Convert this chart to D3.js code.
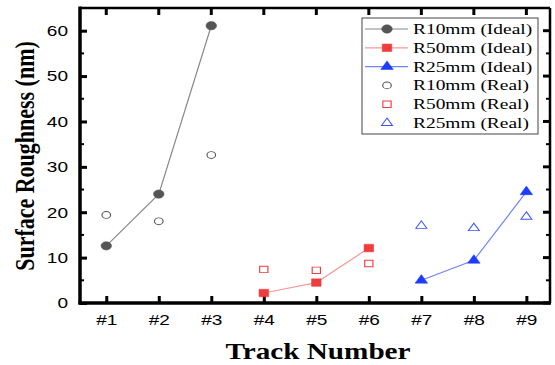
<!DOCTYPE html>
<html>
<head>
<meta charset="utf-8">
<script src="https://cdn.jsdelivr.net/npm/d3@7"></script>
<style>
body { margin: 0; background: #fff; }
svg { display: block; }
</style>
</head>
<body>
<script>
// Daten
var tracks = ["#1", "#2", "#3", "#4", "#5", "#6", "#7", "#8", "#9"];
var yTicks = [0, 10, 20, 30, 40, 50, 60];

var r10Ideal = [12.6, 24.0, 61.1];
var r10Real  = [19.4, 18.0, 32.6];
var r50Ideal = [2.2, 4.5, 12.1];
var r50Real  = [7.4, 7.2, 8.7];
var r25Ideal = [5.0, 9.4, 24.5];
var r25Real  = [17.0, 16.5, 19.0];

var W = 555, H = 365;
var margin = {top: 8, right: 5, bottom: 62, left: 80};
var width = W - margin.left - margin.right,
    height = H - margin.top - margin.bottom;
var SX = 1.27; // Bild ist waagerecht gestreckt

var svg = d3.select("body").append("svg")
  .attr("width", W).attr("height", H);
var g = svg.append("g")
  .attr("transform", "translate(" + margin.left + "," + margin.top + ")");

var xScale = d3.scaleLinear().domain([0.5, 9.45]).range([0, width]);
var yScale = d3.scaleLinear().domain([0, 65]).range([height, 0]);

// Serien
var series = [
  {name: "R10mm (Ideal)", data: r10Ideal, start: 1, shape: d3.symbolCircle, fill: "#555", stroke: "#555", line: "#888", size: 54},
  {name: "R50mm (Ideal)", data: r50Ideal, start: 4, shape: d3.symbolSquare, fill: "#f03c3c", stroke: "#f03c3c", line: "#f59a9a", size: 56},
  {name: "R25mm (Ideal)", data: r25Ideal, start: 7, shape: d3.symbolTriangle, fill: "#1e3cff", stroke: "#1e3cff", line: "#7085ff", size: 42},
  {name: "R10mm (Real)", data: r10Real, start: 1, shape: d3.symbolCircle, fill: "none", stroke: "#555", line: null, size: 36},
  {name: "R50mm (Real)", data: r50Real, start: 4, shape: d3.symbolSquare, fill: "none", stroke: "#f03c3c", line: null, size: 42},
  {name: "R25mm (Real)", data: r25Real, start: 7, shape: d3.symbolTriangle, fill: "none", stroke: "#3a55ff", line: null, size: 32}
];

// Achsen
var xAxis = d3.axisBottom(xScale).tickValues(d3.range(1, 10))
  .tickFormat(function (d) { return tracks[d - 1]; })
  .tickSizeInner(-7).tickSizeOuter(0).tickPadding(11);
var gx = g.append("g").attr("transform", "translate(0," + height + ")").call(xAxis);

var yAxis = d3.axisLeft(yScale).tickValues(yTicks)
  .tickSizeInner(-7).tickSizeOuter(0).tickPadding(12);
var gy = g.append("g").call(yAxis);

[gx, gy].forEach(function (a) {
  a.selectAll("text")
    .style("font-family", "'Liberation Sans', Arial, sans-serif")
    .style("font-size", "15px").attr("fill", "#000")
    .attr("x", function () { return +d3.select(this).attr("x") / SX; })
    .attr("transform", "scale(" + SX + ",1)");
  a.selectAll(".tick line").attr("stroke", "#000").attr("stroke-width", 3);
  a.select(".domain").remove();
});

// Nebenstriche
var minor = [5, 15, 25, 35, 45, 55];
g.selectAll(".minL").data(minor).enter().append("line")
  .attr("x1", 0).attr("x2", 4).attr("y1", yScale).attr("y2", yScale)
  .attr("stroke", "#000").attr("stroke-width", 2);
g.selectAll(".minR").data(minor).enter().append("line")
  .attr("x1", width).attr("x2", width - 4).attr("y1", yScale).attr("y2", yScale)
  .attr("stroke", "#000").attr("stroke-width", 2);
// rechte Hauptstriche
g.selectAll(".majR").data(yTicks).enter().append("line")
  .attr("x1", width).attr("x2", width - 7).attr("y1", yScale).attr("y2", yScale)
  .attr("stroke", "#000").attr("stroke-width", 3);
// obere Striche
g.selectAll(".majT").data(d3.range(1, 10)).enter().append("line")
  .attr("x1", xScale).attr("x2", xScale).attr("y1", 0).attr("y2", 7)
  .attr("stroke", "#000").attr("stroke-width", 3);

// Rahmen
g.append("line").attr("x1", 0).attr("x2", width).attr("y1", 0).attr("y2", 0)
  .attr("stroke", "#000").attr("stroke-width", 2.5);
g.append("line").attr("x1", width).attr("x2", width).attr("y1", 0).attr("y2", height)
  .attr("stroke", "#000").attr("stroke-width", 2.5);
g.append("line").attr("x1", 0).attr("x2", 0).attr("y1", -1.5).attr("y2", height + 1.5)
  .attr("stroke", "#000").attr("stroke-width", 3.5);
g.append("line").attr("x1", -1.5).attr("x2", width + 1).attr("y1", height).attr("y2", height)
  .attr("stroke", "#000").attr("stroke-width", 3.5);

// Linien und Punkte
var line = d3.line()
  .x(function (d) { return xScale(d.x); })
  .y(function (d) { return yScale(d.y); });

function marker(sel, s, k) {
  sel.attr("d", d3.symbol().type(s.shape).size(s.size * k))
    .attr("fill", s.fill).attr("stroke", s.stroke)
    .attr("stroke-width", s.fill === "none" ? 0.9 : 0.5);
}

series.forEach(function (s) {
  var pts = s.data.map(function (v, i) { return {x: s.start + i, y: v}; });
  if (s.line) {
    g.append("path").datum(pts).attr("d", line)
      .attr("fill", "none").attr("stroke", s.line).attr("stroke-width", 1.2);
  }
  g.selectAll(null).data(pts).enter().append("path")
    .call(marker, s, 1)
    .attr("transform", function (d) {
      return "translate(" + xScale(d.x) + "," + yScale(d.y) + ") scale(" + SX + ",1)";
    });
});

// Legende
var lg = svg.append("g").attr("transform", "translate(362,18)");
lg.append("rect").attr("width", 176).attr("height", 116)
  .attr("fill", "#fff").attr("stroke", "#444").attr("stroke-width", 1);
series.forEach(function (s, i) {
  var yy = 11 + i * 18.8;
  if (s.line) {
    lg.append("line").attr("x1", 3).attr("x2", 46).attr("y1", yy).attr("y2", yy)
      .attr("stroke", s.line).attr("stroke-width", 1.2);
  }
  lg.append("path").call(marker, s, 1)
    .attr("transform", "translate(25," + yy + ") scale(" + SX + ",1)");
  lg.append("text").attr("x", 51 / SX).attr("y", yy + 5).text(s.name)
    .attr("transform", "scale(" + SX + ",1)")
    .style("font-family", "'Liberation Serif', 'Times New Roman', serif")
    .style("font-size", "15.3px").attr("fill", "#000");
});

// Achsentitel
svg.append("text").attr("x", 318 / SX).attr("y", 359).attr("text-anchor", "middle")
  .attr("transform", "scale(" + SX + ",1)")
  .style("font-family", "'Liberation Serif', 'Times New Roman', serif")
  .style("font-weight", "bold").style("font-size", "23px").text("Track Number");
svg.append("text").attr("transform", "translate(25,156) scale(" + SX + ",1) rotate(-90)")
  .attr("text-anchor", "middle").attr("dy", "0.33em")
  .style("font-family", "'Liberation Serif', 'Times New Roman', serif")
  .style("font-weight", "bold").style("font-size", "22px").text("Surface Roughness (nm)");
</script>
</body>
</html>
